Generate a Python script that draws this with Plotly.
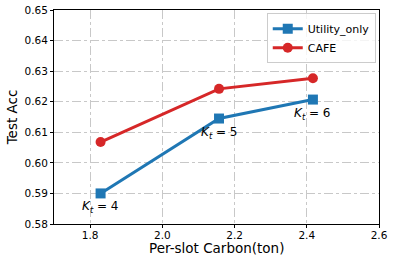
import plotly.graph_objects as go

carbon = [1.829, 2.157, 2.417]
utility_only = [0.590, 0.6145, 0.6207]
cafe = [0.6068, 0.6242, 0.6277]
k_labels = ["4", "5", "6"]
x_ticks = [1.8, 2.0, 2.2, 2.4, 2.6]
y_ticks = [0.58, 0.59, 0.60, 0.61, 0.62, 0.63, 0.64, 0.65]

fig = go.Figure()
fig.add_trace(go.Scatter(x=carbon, y=utility_only, mode="lines+markers", name="Utility_only",
                         line=dict(color="#1f77b4", width=3),
                         marker=dict(symbol="square", size=10, color="#1f77b4")))
fig.add_trace(go.Scatter(x=carbon, y=cafe, mode="lines+markers", name="CAFE",
                         line=dict(color="#d62728", width=3),
                         marker=dict(symbol="circle", size=10, color="#d62728")))

for xv, yv, k in zip(carbon, utility_only, k_labels):
    fig.add_annotation(x=xv, y=yv, text=f"<i>K</i><sub><i>t</i></sub> = {k}", showarrow=False,
                       xanchor="center", yanchor="middle", yshift=-14,
                       font=dict(size=12, color="black", family="DejaVu Sans"))

# x-axis title placed as annotation to sit close to the tick labels
fig.add_annotation(x=0.5, y=0, xref="paper", yref="paper", text="Per-slot Carbon(ton)",
                   showarrow=False, xanchor="center", yanchor="middle", yshift=-24,
                   font=dict(size=13.5, color="black", family="DejaVu Sans"))

axis_common = dict(showline=True, linecolor="black", linewidth=1, mirror=True,
                   ticks="outside", ticklen=3, tickcolor="black", automargin=False,
                   showgrid=True, gridcolor="#c8c8c8", griddash="dashdot", gridwidth=1,
                   zeroline=False, tickfont=dict(size=10.5, color="black"))

fig.update_layout(
    width=395, height=260,
    margin=dict(l=54, r=16, t=10, b=36),
    paper_bgcolor="white", plot_bgcolor="white",
    font=dict(family="DejaVu Sans", color="black"),
    xaxis=dict(range=[1.7, 2.6], tickvals=x_ticks, ticktext=[f"{v:.1f}" for v in x_ticks],
               ticklabelstandoff=-2, **axis_common),
    yaxis=dict(range=[0.58, 0.65], tickvals=y_ticks, ticktext=[f"{v:.2f}" for v in y_ticks],
               title=dict(text="Test Acc", font=dict(size=13.5), standoff=3), **axis_common),
    legend=dict(x=0.99, y=0.985, xanchor="right", yanchor="top",
                bordercolor="#cccccc", borderwidth=1, bgcolor="rgba(255,255,255,0.8)",
                font=dict(size=11), tracegroupgap=0, itemwidth=30),
    showlegend=True,
)

fig.write_html("out.html", config={"displayModeBar": False},
               post_script="document.body.style.margin='0';")
